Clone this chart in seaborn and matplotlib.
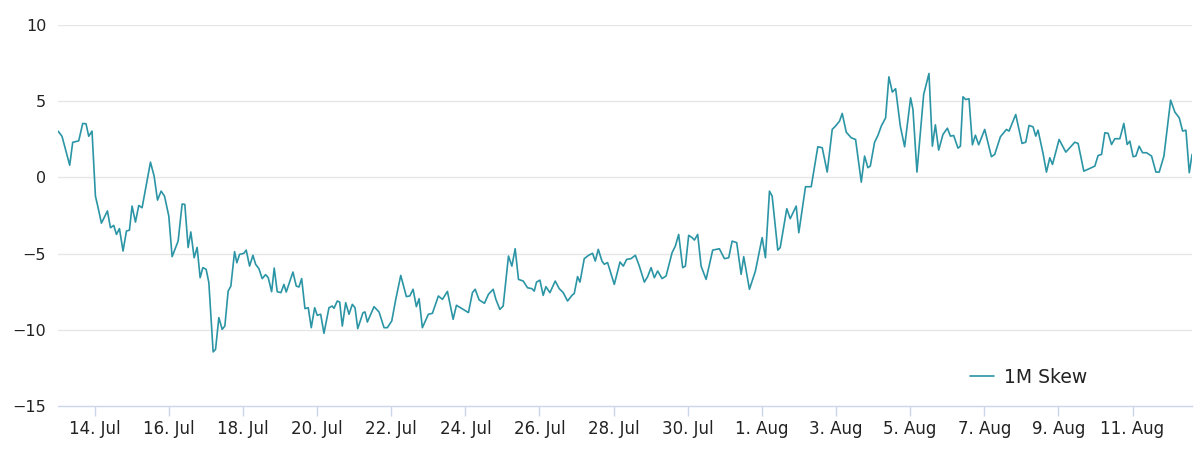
import numpy as np
import pandas as pd
import matplotlib
matplotlib.use('Agg')
import matplotlib.pyplot as plt
import seaborn as sns

# days since 13 Jul 00:00
days = [0.01, 0.117, 0.325, 0.406, 0.568, 0.676, 0.765, 0.838, 0.927, 1.019,
        1.081, 1.181, 1.343, 1.424, 1.513, 1.586, 1.667, 1.764, 1.856, 1.937,
        2.007, 2.099, 2.188, 2.278, 2.504, 2.602, 2.694, 2.791, 2.883, 2.999,
        3.088, 3.25, 3.358, 3.431, 3.52, 3.593, 3.682, 3.763, 3.844, 3.917,
        4.006, 4.079, 4.195, 4.26, 4.349, 4.438, 4.511, 4.6, 4.673, 4.773,
        4.835, 4.908, 5.024, 5.087, 5.178, 5.268, 5.341, 5.43, 5.519, 5.611,
        5.681, 5.773, 5.843, 5.924, 6.024, 6.105, 6.167, 6.348, 6.437, 6.51,
        6.583, 6.672, 6.761, 6.842, 6.934, 7.004, 7.096, 7.185, 7.32, 7.409,
        7.455, 7.545, 7.609, 7.68, 7.771, 7.861, 7.95, 8.023, 8.096, 8.239,
        8.293, 8.355, 8.536, 8.671, 8.806, 8.895, 9.014, 9.122, 9.257, 9.408,
        9.5, 9.589, 9.678, 9.751, 9.84, 10.002, 10.11, 10.272, 10.381, 10.516,
        10.67, 10.759, 11.083, 11.191, 11.264, 11.372, 11.515, 11.623, 11.75, 11.823,
        11.931, 12.02, 12.163, 12.255, 12.344, 12.433, 12.56, 12.677, 12.796, 12.858,
        12.92, 13.011, 13.1, 13.173, 13.281, 13.425, 13.533, 13.641, 13.757, 13.876,
        13.938, 14.027, 14.092, 14.208, 14.324, 14.432, 14.505, 14.586, 14.686, 14.748,
        14.837, 15.018, 15.172, 15.261, 15.351, 15.469, 15.586, 15.694, 15.829, 15.918,
        16.01, 16.099, 16.188, 16.307, 16.415, 16.577, 16.666, 16.755, 16.863, 16.936,
        17.025, 17.117, 17.179, 17.268, 17.36, 17.495, 17.673, 17.854, 17.989, 18.105,
        18.197, 18.321, 18.44, 18.51, 18.664, 18.826, 19.007, 19.096, 19.205, 19.277,
        19.429, 19.494, 19.672, 19.764, 19.926, 19.996, 20.177, 20.331, 20.509, 20.628,
        20.763, 20.898, 20.987, 21.095, 21.168, 21.276, 21.411, 21.528, 21.682, 21.771,
        21.86, 21.925, 22.041, 22.13, 22.222, 22.338, 22.427, 22.519, 22.608, 22.735,
        22.851, 23.013, 23.076, 23.184, 23.365, 23.508, 23.6, 23.681, 23.77, 23.886,
        24.005, 24.086, 24.175, 24.291, 24.356, 24.426, 24.499, 24.588, 24.68, 24.761,
        24.85, 25.012, 25.193, 25.282, 25.436, 25.598, 25.668, 25.849, 26.019, 26.119,
        26.208, 26.316, 26.389, 26.451, 26.586, 26.678, 26.768, 26.841, 27.019, 27.2,
        27.443, 27.532, 27.686, 27.894, 27.983, 28.072, 28.164, 28.253, 28.342, 28.434,
        28.523, 28.658, 28.766, 28.855, 28.928, 29.017, 29.09, 29.179, 29.271, 29.379,
        29.514, 29.631, 29.72, 29.847, 30.028, 30.144, 30.261, 30.352, 30.441, 30.531,
        30.606]

skew = [3.04, 2.7, 0.8, 2.3, 2.4, 3.54, 3.52, 2.7, 3.04, -1.23,
        -1.88, -3.0, -2.2, -3.3, -3.15, -3.74, -3.36, -4.83, -3.52, -3.46,
        -1.88, -2.93, -1.84, -1.99, 1.0, 0.09, -1.49, -0.9, -1.23, -2.54,
        -5.2, -4.18, -1.75, -1.77, -4.6, -3.58, -5.27, -4.59, -6.58, -5.92,
        -6.03, -6.9, -11.45, -11.28, -9.2, -9.97, -9.75, -7.46, -7.13, -4.87,
        -5.6, -5.05, -4.98, -4.77, -5.82, -5.11, -5.7, -5.99, -6.64, -6.38,
        -6.58, -7.5, -5.95, -7.5, -7.56, -7.02, -7.52, -6.21, -7.13, -7.19,
        -6.64, -8.61, -8.55, -9.86, -8.55, -9.05, -8.98, -10.23, -8.55, -8.44,
        -8.59, -8.11, -8.18, -9.75, -8.22, -8.98, -8.33, -8.55, -9.92, -8.87,
        -8.83, -9.49, -8.48, -8.83, -9.86, -9.86, -9.42, -8.0, -6.43, -7.82,
        -7.78, -7.34, -8.48, -7.96, -9.86, -8.98, -8.92, -7.78, -8.0, -7.48,
        -9.31, -8.39, -8.87, -7.56, -7.34, -8.04, -8.26, -7.67, -7.34, -8.0,
        -8.66, -8.44, -5.16, -5.82, -4.68, -6.69, -6.8, -7.24, -7.3, -7.46,
        -6.87, -6.74, -7.74, -7.17, -7.56, -6.8, -7.3, -7.56, -8.11, -7.74,
        -7.61, -6.51, -6.87, -5.33, -5.11, -4.98, -5.49, -4.72, -5.49, -5.7,
        -5.59, -7.02, -5.55, -5.82, -5.38, -5.33, -5.11, -5.82, -6.87, -6.51,
        -5.92, -6.58, -6.14, -6.64, -6.47, -4.94, -4.5, -3.74, -5.92, -5.82,
        -3.8, -3.95, -4.11, -3.74, -5.82, -6.69, -4.77, -4.68, -5.33, -5.27,
        -4.18, -4.28, -6.36, -5.2, -7.34, -6.14, -3.95, -5.27, -0.9, -1.23,
        -4.77, -4.61, -2.05, -2.71, -1.88, -3.63, -0.61, -0.61, 2.01, 1.95,
        0.35, 3.15, 3.37, 3.69, 4.2, 2.97, 2.6, 2.49, -0.31, 1.4,
        0.64, 0.74, 2.31, 2.75, 3.37, 3.91, 6.6, 5.6, 5.82, 3.37,
        2.01, 5.22, 4.46, 0.35, 5.44, 6.82, 2.05, 3.45, 1.79, 2.82,
        3.23, 2.71, 2.75, 1.92, 2.05, 5.29, 5.11, 5.16, 2.14, 2.77,
        2.14, 3.15, 1.36, 1.51, 2.67, 3.15, 3.04, 4.13, 2.23, 2.31,
        3.41, 3.32, 2.71, 3.1, 1.57, 0.35, 1.29, 0.85, 2.49, 1.66,
        2.31, 2.23, 0.41, 0.64, 0.74, 1.44, 1.51, 2.93, 2.89, 2.16,
        2.54, 2.54, 3.54, 2.16, 2.38, 1.36, 1.4, 2.05, 1.62, 1.62,
        1.4, 0.35, 0.35, 1.4, 5.07, 4.28, 3.91, 3.04, 3.1, 0.31,
        1.51]

y_ticks = [-15, -10, -5, 0, 5, 10]
series_name = '1M Skew'

start = pd.Timestamp('2021-07-13')
df = pd.DataFrame({'time': start + pd.to_timedelta(days, unit='D'), 'skew': skew})
x_ticks = pd.date_range('2021-07-14', '2021-08-11', freq='2D')

sns.set_theme(style='white')
plt.rcParams['font.family'] = ['DejaVu Sans']

line_color = '#2b95a5'
text_color = '#222222'

fig = plt.figure(figsize=(11.99, 4.54), dpi=100)
ax = fig.add_axes([0.0484, 0.1057, 0.9458, 0.8392])

sns.lineplot(data=df, x='time', y='skew', ax=ax, color=line_color,
             linewidth=1.2, label=series_name)

ax.set_xlim(df['time'].iloc[0], df['time'].iloc[-1])
ax.set_ylim(-15, 10)
ax.set_yticks(y_ticks)
ax.set_yticklabels(['\u2212' + str(-t) if t < 0 else str(t) for t in y_ticks])
ax.set_xticks(x_ticks)
ax.set_xticklabels([f"{d.day}. {d.strftime('%b')}" for d in x_ticks])

# horizontal grid only, skip the bottom one (axis line sits there)
for t in y_ticks[1:]:
    ax.axhline(t, color='#e6e6e6', linewidth=1, zorder=0)

for s in ['top', 'left', 'right']:
    ax.spines[s].set_visible(False)
ax.spines['bottom'].set_color('#ccd6eb')
ax.spines['bottom'].set_linewidth(1)

ax.tick_params(axis='x', bottom=True, direction='out', colors='#ccd6eb',
               length=7.2, width=1, pad=3, labelcolor=text_color, labelsize=12)
ax.tick_params(axis='y', left=False, length=0, pad=8.5,
               labelcolor=text_color, labelsize=11.5)
ax.set_xlabel('')
ax.set_ylabel('')

ax.legend(loc='center', bbox_to_anchor=(0.856, 0.076), frameon=False,
          fontsize=13.5, handlelength=1.25, handletextpad=0.55,
          labelcolor=text_color)

fig.savefig('out.png', dpi=100, facecolor='white')
